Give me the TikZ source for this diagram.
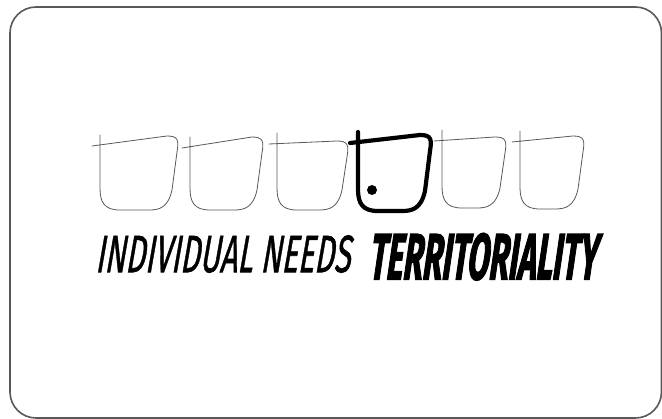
\documentclass[tikz,border=0pt]{standalone}
\usepackage{fontspec}
\setsansfont{Fira Sans}
\newfontfamily\handA[FakeSlant=0.3,FakeBold=1.2]{Fira Sans}
\newfontfamily\handB[FakeSlant=0.3,FakeBold=2.5]{Fira Sans Bold}
\usepackage{graphicx}
\tikzset{
  frame/.style={draw=black!65, line width=1.6pt, rounded corners=26pt},
  sketch/.style={draw=black!65, line width=0.8pt, line join=round, line cap=round},
  boldsketch/.style={draw=black, line width=4.2pt, line join=round, line cap=round},
  lbl/.style={inner sep=0pt, anchor=north west}
}
\newcommand{\sketchbox}[6]{%
  % #1 style, #2 L, #3 R, #4 top at left, #5 top at right, #6 bottom
  \draw[#1] ({#2-8},{#4+1}) -- ({#3-10},{#5})
    .. controls ({#3+1},{#5}) and ({#3+2},{#5+4}) .. ({#3},{#5+16})
    -- ({#3-5},{#6-20})
    .. controls ({#3-9},{#6-2}) and ({#3-18},{#6}) .. ({#3-28},{#6})
    -- ({#2+20},{#6})
    .. controls ({#2+4},{#6}) and ({#2},{#6-8}) .. ({#2},{#6-22})
    -- ({#2},{#4-10});
}
\begin{document}
\begin{tikzpicture}[x=1pt,y=-1pt]
\useasboundingbox (0,0) rectangle (662,419);
\fill[white] (0,0) rectangle (662,419);
\draw[frame] (10,7) -- (661.5,7) -- (661.5,418) -- (10,418) -- cycle;
\sketchbox{sketch}{100}{177}{145}{136}{210}
\sketchbox{sketch}{190}{262}{147}{137}{210}
\sketchbox{sketch}{277}{347}{143}{141}{210}
\sketchbox{boldsketch}{358}{430}{142}{135}{211}
\sketchbox{sketch}{442}{505}{140}{137}{208}
\sketchbox{sketch}{520}{583}{141}{136}{209}
\fill (372,190) circle (5pt);
\node[lbl] (needs) at (95,235) {\resizebox{255pt}{37pt}{\handA INDIVIDUAL NEEDS}};
\node[lbl] (terr) at (368,233) {\resizebox{228pt}{46pt}{\handB TERRITORIALITY}};
\end{tikzpicture}
\end{document}
